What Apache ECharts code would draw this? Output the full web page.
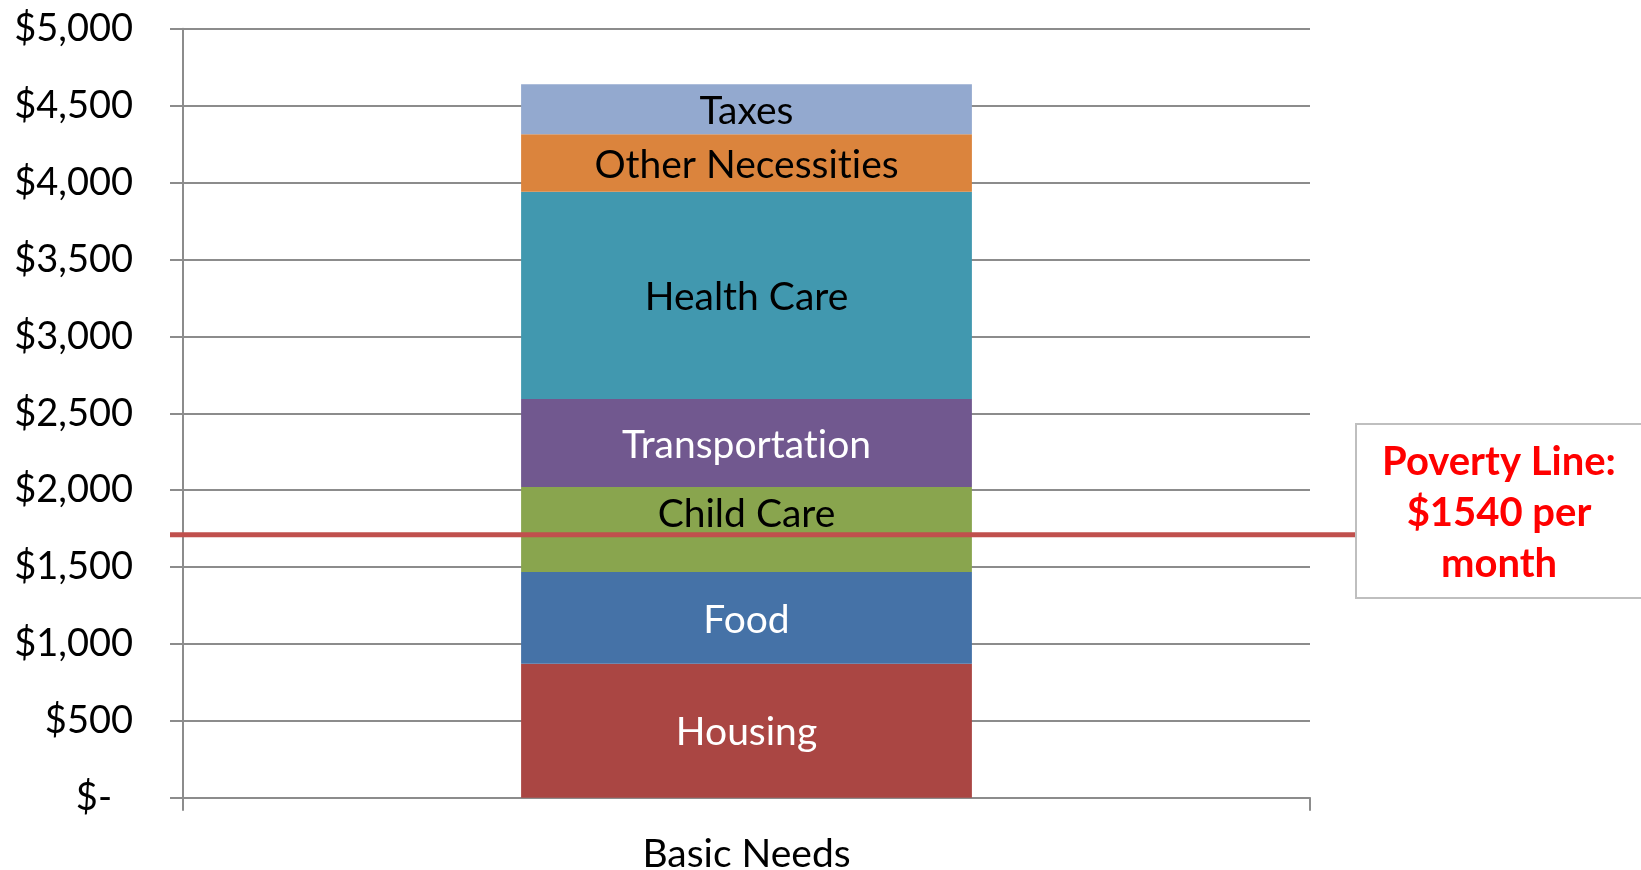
<!DOCTYPE html>
<html>
<head>
<meta charset="utf-8">
<script src="https://cdn.jsdelivr.net/npm/echarts@6/dist/echarts.min.js"></script>
<style>
  html, body { margin: 0; padding: 0; background: #fff; }
  #chart { width: 1641px; height: 870px; }
</style>
</head>
<body>
<div id="chart"></div>
<script>
// 数据
const categories = ['Basic Needs']
const seriesNames = ['Housing', 'Food', 'Child Care', 'Transportation', 'Health Care', 'Other Necessities', 'Taxes']
const seriesValues = [871, 596, 553, 572, 1348, 375, 325]
const seriesColors = ['#AA4643', '#4572A7', '#89A54E', '#71588F', '#4198AF', '#DB843D', '#93A9CF']
const labelColors = ['#fff', '#fff', '#000', '#fff', '#000', '#000', '#000']
const yTicks = [0, 500, 1000, 1500, 2000, 2500, 3000, 3500, 4000, 4500, 5000]
const povertyLineValue = 1710
const povertyText = 'Poverty Line:\n$1540 per\nmonth'

const font = 'Lato, "Open Sans", sans-serif'
const gray = '#8c8c8c'

// 去掉 Lato 的 "ti" 连字
const noLig = (s) => s.replace(/ti/g, 't\u200Ci')

const chart = echarts.init(document.getElementById('chart'))

const series = seriesNames.map((name, i) => ({
  name: name,
  type: 'bar',
  stack: 'total',
  barWidth: '40%',
  data: [seriesValues[i]],
  itemStyle: { color: seriesColors[i] },
  label: {
    show: true,
    position: 'inside',
    formatter: (p) => noLig(p.seriesName),
    color: labelColors[i],
    fontFamily: font,
    fontSize: 39,
    // Child Care 标签被手动上移
    offset: name === 'Child Care' ? [0, -15] : [0, 2],
  },
}))

chart.setOption({
  animation: false,
  grid: { left: 183, right: 331, top: 28.8, bottom: 72.3, outerBoundsMode: 'none', containLabel: false },
  xAxis: {
    type: 'category',
    data: categories,
    axisLine: { lineStyle: { color: gray, width: 2 } },
    axisTick: { show: true, length: 13, lineStyle: { color: gray, width: 2 } },
    axisLabel: { color: '#000', fontFamily: font, fontSize: 39, margin: 37 },
  },
  yAxis: {
    type: 'value',
    min: yTicks[0],
    max: yTicks[yTicks.length - 1],
    interval: yTicks[1] - yTicks[0],
    axisLine: { show: true, lineStyle: { color: gray, width: 2 } },
    axisTick: { show: true, length: 13, lineStyle: { color: gray, width: 2 } },
    splitLine: { lineStyle: { color: gray, width: 2 } },
    axisLabel: {
      color: '#000',
      fontFamily: font,
      fontSize: 38,
      margin: 50,
      formatter: (v) => (v === 0 ? '{z|$-}' : '$' + v.toLocaleString('en-US')),
      rich: { z: { fontFamily: font, fontSize: 38, padding: [0, 21, 0, 0] } },
    },
  },
  series: series,
})

// 贫困线 + 文本框
const py = chart.convertToPixel({ yAxisIndex: 0 }, povertyLineValue)
chart.setOption({
  graphic: [
    {
      type: 'line',
      shape: { x1: 170, y1: py, x2: 1356, y2: py },
      style: { stroke: '#C0504D', lineWidth: 5 },
      z: 100,
    },
    {
      type: 'rect',
      shape: { x: 1356, y: 424, width: 290, height: 174 },
      style: { fill: '#fff', stroke: '#BFBFBF', lineWidth: 2 },
      z: 100,
    },
    {
      type: 'text',
      x: 1499,
      y: 513,
      style: {
        text: povertyText,
        fill: '#FF0000',
        font: 'bold 40px ' + font,
        align: 'center',
        verticalAlign: 'middle',
        lineHeight: 51,
      },
      z: 101,
    },
  ],
})
</script>
</body>
</html>
